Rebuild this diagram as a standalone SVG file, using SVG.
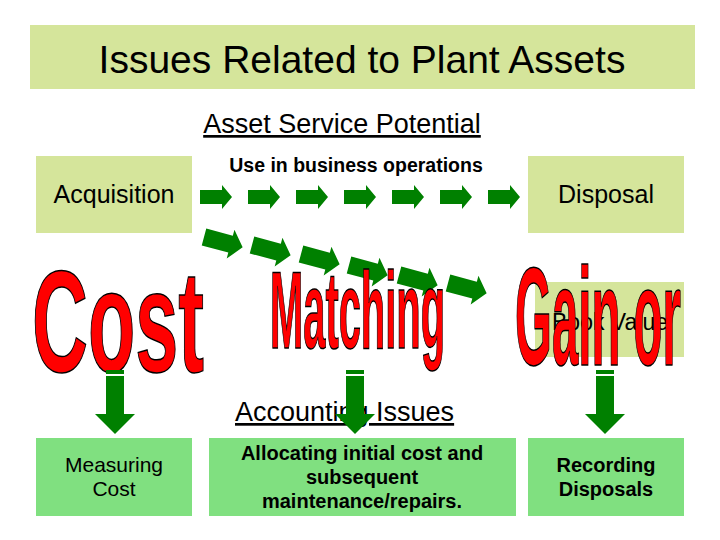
<svg xmlns="http://www.w3.org/2000/svg" width="720" height="540" viewBox="0 0 720 540">
<defs>
<style>
.y{fill:#d5e59b}
.g{fill:#80e080}
.t{font-family:"Liberation Sans",Arial,sans-serif;fill:#000}
.b{font-weight:bold}
.big{font-family:"Liberation Sans Narrow","Liberation Sans",sans-serif;font-weight:bold;fill:#ff0000;stroke:#000;stroke-width:1.5}
.ar{fill:#008000}
</style>
<path id="ha" d="M0,-7 H22 V-12 L32,0 L22,12 V7 H0 Z"/>
<path id="da" d="M-9,0 H9 V38 H20 L0,58 L-20,38 H-9 Z"/>
</defs>
<rect width="720" height="540" fill="#fff"/>
<g id="title"><rect class="y" x="30" y="25" width="665" height="64"/><text class="t" x="362" y="73" font-size="39" text-anchor="middle">Issues Related to Plant Assets</text></g>
<g id="asp"><text class="t" x="342" y="133" font-size="27" text-anchor="middle" text-decoration="underline">Asset Service Potential</text></g>
<g id="use"><text class="t b" x="356" y="172" font-size="19.5" text-anchor="middle">Use in business operations</text></g>
<g id="acq"><rect class="y" x="36" y="156" width="156" height="77"/><text class="t" x="114" y="203" font-size="25" text-anchor="middle">Acquisition</text></g>
<g id="disp"><rect class="y" x="528" y="156" width="156" height="77"/><text class="t" x="606" y="203" font-size="25" text-anchor="middle">Disposal</text></g>
<g id="bv"><rect class="y" x="535" y="282" width="149" height="75"/><text class="t" x="610" y="330" font-size="23" text-anchor="middle">Book Value</text></g>
<g id="connectors" class="ar">
<use href="#ha" x="200" y="197"/><use href="#ha" x="248" y="197"/><use href="#ha" x="296" y="197"/><use href="#ha" x="344" y="197"/><use href="#ha" x="392" y="197"/><use href="#ha" x="440" y="197"/><use href="#ha" x="488" y="197"/>
<use href="#ha" transform="translate(204,237) rotate(15) scale(1.25)"/>
<use href="#ha" transform="translate(252,245) rotate(15) scale(1.25)"/>
<use href="#ha" transform="translate(301,254) rotate(15) scale(1.25)"/>
<use href="#ha" transform="translate(349,265) rotate(15) scale(1.25)"/>
<use href="#ha" transform="translate(399,275) rotate(15) scale(1.25)"/>
<use href="#ha" transform="translate(448,283) rotate(15) scale(1.25)"/>
</g>
<g id="cost"><text class="big" x="32" y="372" font-size="145" textLength="172" lengthAdjust="spacingAndGlyphs">Cost</text></g>
<g id="matching"><text class="big" x="270" y="348" font-size="109" textLength="175" lengthAdjust="spacingAndGlyphs">Matching</text></g>
<g id="gain"><text class="big" x="515" y="365" font-size="140" textLength="166" lengthAdjust="spacingAndGlyphs">Gain or</text></g>
<g id="ai"><text class="t" x="235" y="421" font-size="27" text-decoration="underline">Accounting Issues</text></g>
<g id="downarrows" class="ar">
<rect x="106" y="370" width="18" height="4"/><use href="#da" x="115" y="376"/>
<rect x="346" y="370" width="18" height="4"/><use href="#da" x="355" y="376"/>
<rect x="596" y="370" width="18" height="4"/><use href="#da" x="605" y="376"/>
</g>
<g id="mc"><rect class="g" x="36" y="438" width="156" height="78"/><text class="t" x="114" y="472" font-size="21" text-anchor="middle">Measuring</text><text class="t" x="114" y="496" font-size="21" text-anchor="middle">Cost</text></g>
<g id="alloc"><rect class="g" x="209" y="438" width="307" height="78"/><text class="t b" x="362" y="460" font-size="20" text-anchor="middle">Allocating initial cost and</text><text class="t b" x="362" y="484" font-size="20" text-anchor="middle">subsequent</text><text class="t b" x="362" y="508" font-size="20" text-anchor="middle">maintenance/repairs.</text></g>
<g id="rd"><rect class="g" x="528" y="438" width="156" height="78"/><text class="t b" x="606" y="472" font-size="20" text-anchor="middle">Recording</text><text class="t b" x="606" y="496" font-size="20" text-anchor="middle">Disposals</text></g>
</svg>
